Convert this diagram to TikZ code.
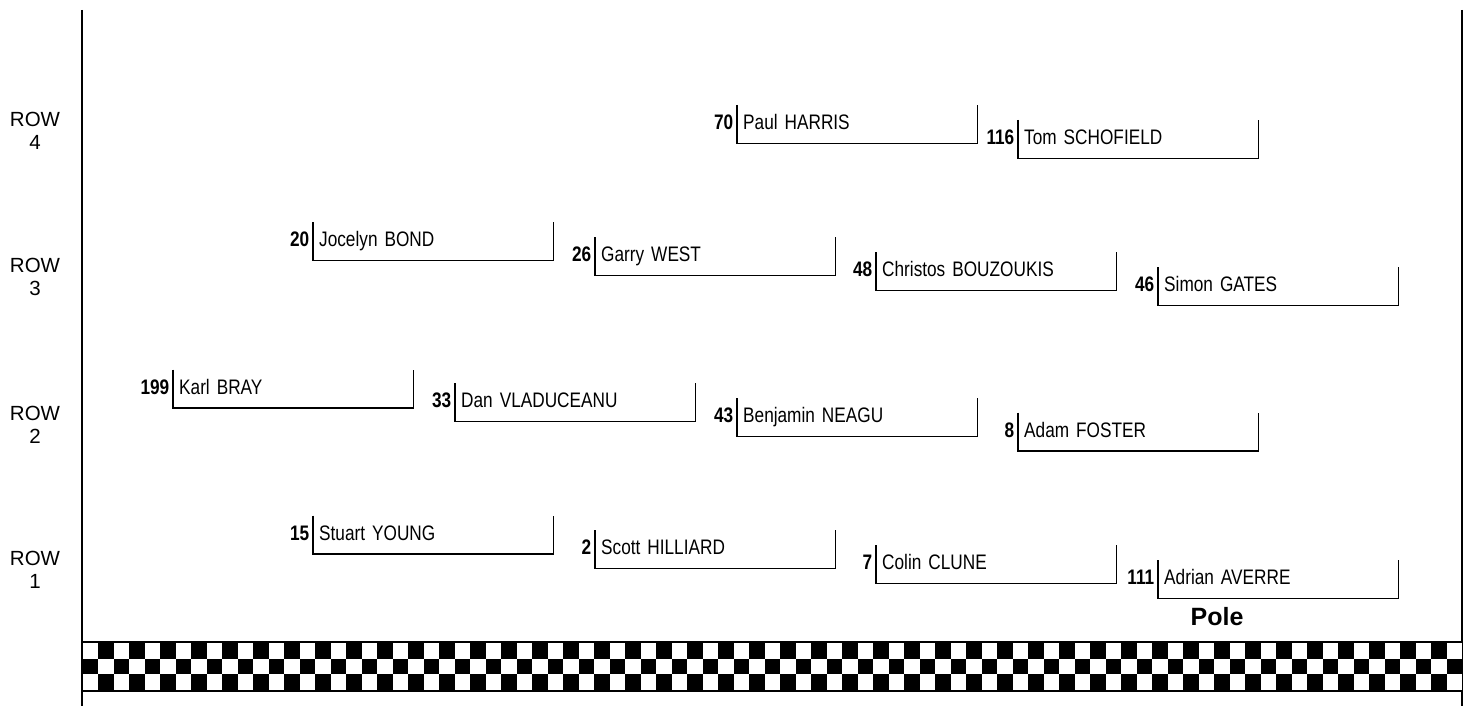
\documentclass[tikz,border=0pt]{standalone}
\usepackage{fontspec}
\setmainfont{Liberation Sans}
\newfontfamily\narrowfont[FakeStretch=0.82, WordSpace=0.75]{Liberation Sans}
\usepackage{tikz}
\usetikzlibrary{positioning}

\begin{document}
\begin{tikzpicture}[
    x=1pt, y=-1pt,
    slot/.style={
        rectangle,
        anchor=north west,
        minimum width=240pt,
        minimum height=38pt,
        inner xsep=6pt,
        inner ysep=0pt,
        text width=228pt,
        align=left,
        text height=15pt,
        text depth=4pt,
        font=\narrowfont\fontsize{21}{23}\selectfont
    },
    carno/.style={
        inner xsep=3.5pt,
        inner ysep=0pt,
        text height=15pt,
        text depth=4pt,
        font=\narrowfont\bfseries\fontsize{21}{23}\selectfont
    },
    bracket/.style={line width=1.5pt},
    rowlabel/.style={align=center, font=\fontsize{20.5}{23}\selectfont},
    axis/.style={line width=1.3pt}
]
\useasboundingbox (0,0) rectangle (1470,706);

% row labels
\node[rowlabel] (row4) at (35,130.5) {ROW\\4};
\node[rowlabel] (row3) at (35,277) {ROW\\3};
\node[rowlabel] (row2) at (35,424.5) {ROW\\2};
\node[rowlabel] (row1) at (35,569.5) {ROW\\1};

% side lines
\coordinate (lefttop) at (82,10);
\coordinate (leftbot) at (82,706);
\coordinate (righttop) at (1462,10);
\coordinate (rightbot) at (1462,706);
\draw[axis] (lefttop) -- (leftbot);
\draw[axis] (righttop) -- (rightbot);

% row 4
\node[slot, label={[carno]left:70}] (harris) at (737,105) {Paul HARRIS};
\node[slot, label={[carno]left:116}] (schofield) at (1018,120) {Tom SCHOFIELD};

% row 3
\node[slot, label={[carno]left:20}] (bond) at (313,222) {Jocelyn BOND};
\node[slot, label={[carno]left:26}] (west) at (595,237) {Garry WEST};
\node[slot, label={[carno]left:48}] (bouzoukis) at (876,252) {Christos BOUZOUKIS};
\node[slot, label={[carno]left:46}] (gates) at (1158,267) {Simon GATES};

% row 2
\node[slot, label={[carno]left:199}] (bray) at (173,369.5) {Karl BRAY};
\node[slot, label={[carno]left:33}] (vladuceanu) at (455,383) {Dan VLADUCEANU};
\node[slot, label={[carno]left:43}] (neagu) at (737,398) {Benjamin NEAGU};
\node[slot, label={[carno]left:8}] (foster) at (1018,412.5) {Adam FOSTER};

% row 1
\node[slot, label={[carno]left:15}] (young) at (313,515.5) {Stuart YOUNG};
\node[slot, label={[carno]left:2}] (hilliard) at (595,530) {Scott HILLIARD};
\node[slot, label={[carno]left:7}] (clune) at (876,545) {Colin CLUNE};
\node[slot, label={[carno]left:111}] (averre) at (1158,560) {Adrian AVERRE};

\foreach \p in {harris,schofield,bond,west,bouzoukis,gates,bray,vladuceanu,neagu,foster,young,hilliard,clune,averre}
    \draw[bracket] (\p.north west) |- (\p.south east) -- (\p.north east);

\node[font=\bfseries\fontsize{25}{27}\selectfont] (pole) at (1217,617) {Pole};

% chequered line
\fill[black] (82,641) rectangle (1462,692);
\foreach \i in {0,2,...,88} {
    \fill[white] (82.7+15.5*\i,643.3) rectangle ++(15.5,15.57);
    \fill[white] (82.7+15.5*\i,674.44) rectangle ++(15.5,15.56);
}
\foreach \i in {1,3,...,87}
    \fill[white] (82.7+15.5*\i,658.87) rectangle ++(15.5,15.57);

\end{tikzpicture}
\end{document}
